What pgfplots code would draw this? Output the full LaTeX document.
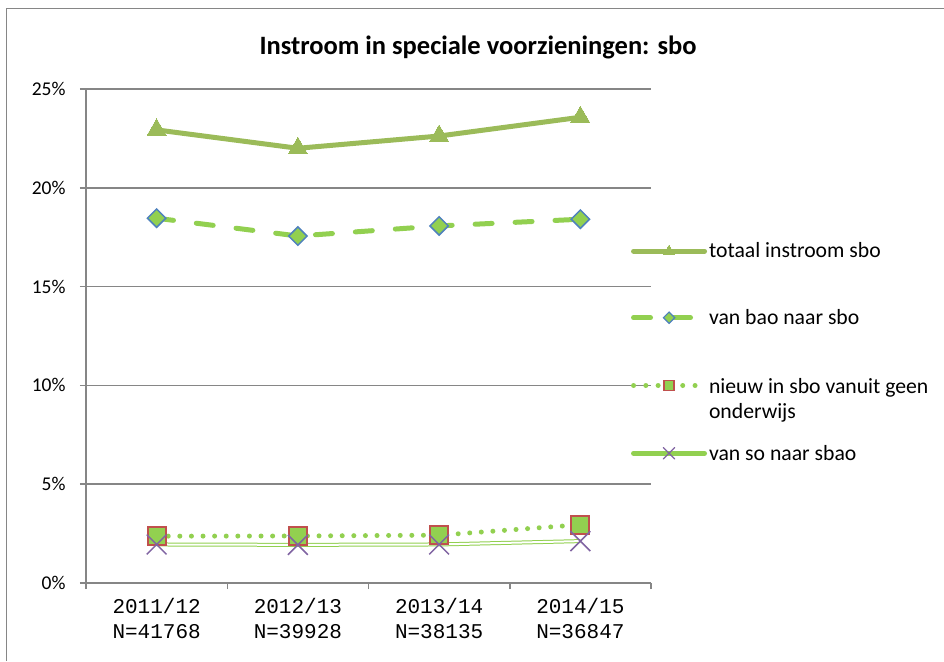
\documentclass[border=0pt]{standalone}
\usepackage{pgfplots}
\pgfplotsset{compat=1.18}
\usepackage{fontspec}
\setmainfont{Carlito}
\newfontfamily\mono{Liberation Mono}
\definecolor{olivec}{HTML}{9BBB59}
\definecolor{lgreen}{HTML}{92D050}
\definecolor{mblue}{HTML}{4F81BD}
\definecolor{mred}{HTML}{C0504D}
\definecolor{mpurple}{HTML}{8064A2}
\definecolor{axgray}{HTML}{868686}
\begin{document}
\begin{tikzpicture}[x=1pt,y=1pt]
\useasboundingbox (0,0) rectangle (944,661);
\draw[axgray, line width=1.5pt] (6.5,0) -- (6.5,652.5) -- (944,652.5);
\node[font=\fontsize{26.5}{30}\selectfont\bfseries] at (478,614) {Instroom in speciale voorzieningen: sbo};
\begin{axis}[
  at={(86pt,78pt)}, anchor=south west,
  scale only axis, width=565pt, height=494pt,
  xmin=-0.5, xmax=3.5, ymin=0, ymax=25,
  axis lines*=left,
  axis line style={axgray, line width=1.5pt},
  tick align=outside, major tick length=6pt,
  tick style={axgray, line width=1.5pt},
  xtick={-0.5,0.5,1.5,2.5,3.5},
  x tick label as interval,
  xticklabels={{2011/12\\N=41768},{2012/13\\N=39928},{2013/14\\N=38135},{2014/15\\N=36847}},
  xticklabel style={font=\mono\fontsize{21}{25}\selectfont, align=center, yshift=-6pt},
  ytick={0,5,10,15,20,25},
  yticklabels={0\%,5\%,10\%,15\%,20\%,25\%},
  yticklabel style={font=\fontsize{19.5}{24}\selectfont, xshift=-11pt},
  ymajorgrids, grid style={axgray, line width=1.5pt},
  clip=false,
  legend image code/.code={\draw[mark repeat=2,mark phase=2,#1] plot coordinates {(0pt,0pt) (35.5pt,0pt) (71pt,0pt)};},
  legend style={at={(axis description cs:0.959,0.697)}, anchor=north west, draw=none, fill=none, font=\fontsize{21.7}{25}\selectfont, row sep=46pt},
  legend cell align=left,
]
\addplot[forget plot, olivec, line width=5pt, line join=round, mark=triangle*, mark size=11pt, mark options={fill=olivec, draw=olivec, line width=0pt}] coordinates {(0,22.93)(1,22.0)(2,22.62)(3,23.57)};
\addplot[forget plot, lgreen, line width=5pt, line cap=round, dash pattern=on 17pt off 23pt, mark=square*, mark size=6.5pt, mark options={solid, rotate=45, fill=lgreen, draw=mblue, line width=1.5pt}] coordinates {(0,18.46)(1,17.56)(2,18.07)(3,18.41)};
\addplot[forget plot, lgreen, line width=5pt, line cap=round, dash pattern=on 0pt off 11.6pt, mark=square*, mark size=9pt, mark options={solid, fill=lgreen, draw=mred, line width=1.8pt}] coordinates {(0,2.37)(1,2.38)(2,2.42)(3,2.95)};
\addplot[forget plot, lgreen, line width=1pt, double=white, double distance=2pt] coordinates {(0,1.95)(1,1.93)(2,1.95)(3,2.12)};
\addplot[forget plot, only marks, mark=x, mark size=14pt, mark options={draw=mpurple, line width=1.5pt}] coordinates {(0,1.95)(1,1.93)(2,1.95)(3,2.12)};
\addlegendimage{olivec, line width=5pt, line cap=round, mark=triangle*, mark size=6pt, mark options={fill=olivec, draw=olivec, line width=0pt}}
\addlegendentry{totaal instroom sbo}
\addlegendimage{lgreen, line width=5pt, line cap=round, dash pattern=on 17pt off 23pt, mark=square*, mark size=4pt, mark options={solid, rotate=45, fill=lgreen, draw=mblue, line width=1.2pt}}
\addlegendentry{van bao naar sbo}
\addlegendimage{lgreen, line width=5pt, line cap=round, dash pattern=on 0pt off 12.3pt, mark=square*, mark size=5pt, mark options={solid, fill=lgreen, draw=mred, line width=1.2pt}}
\addlegendentry{\raisebox{0pt}[\height][0pt]{\begin{tabular}[t]{@{}l@{}}nieuw in sbo vanuit geen\\onderwijs\end{tabular}}}
\addlegendimage{lgreen, line width=5pt, line cap=round, mark=x, mark size=8pt, mark options={draw=mpurple, line width=1.2pt}}
\addlegendentry{van so naar sbao}
\end{axis}
\end{tikzpicture}
\end{document}
